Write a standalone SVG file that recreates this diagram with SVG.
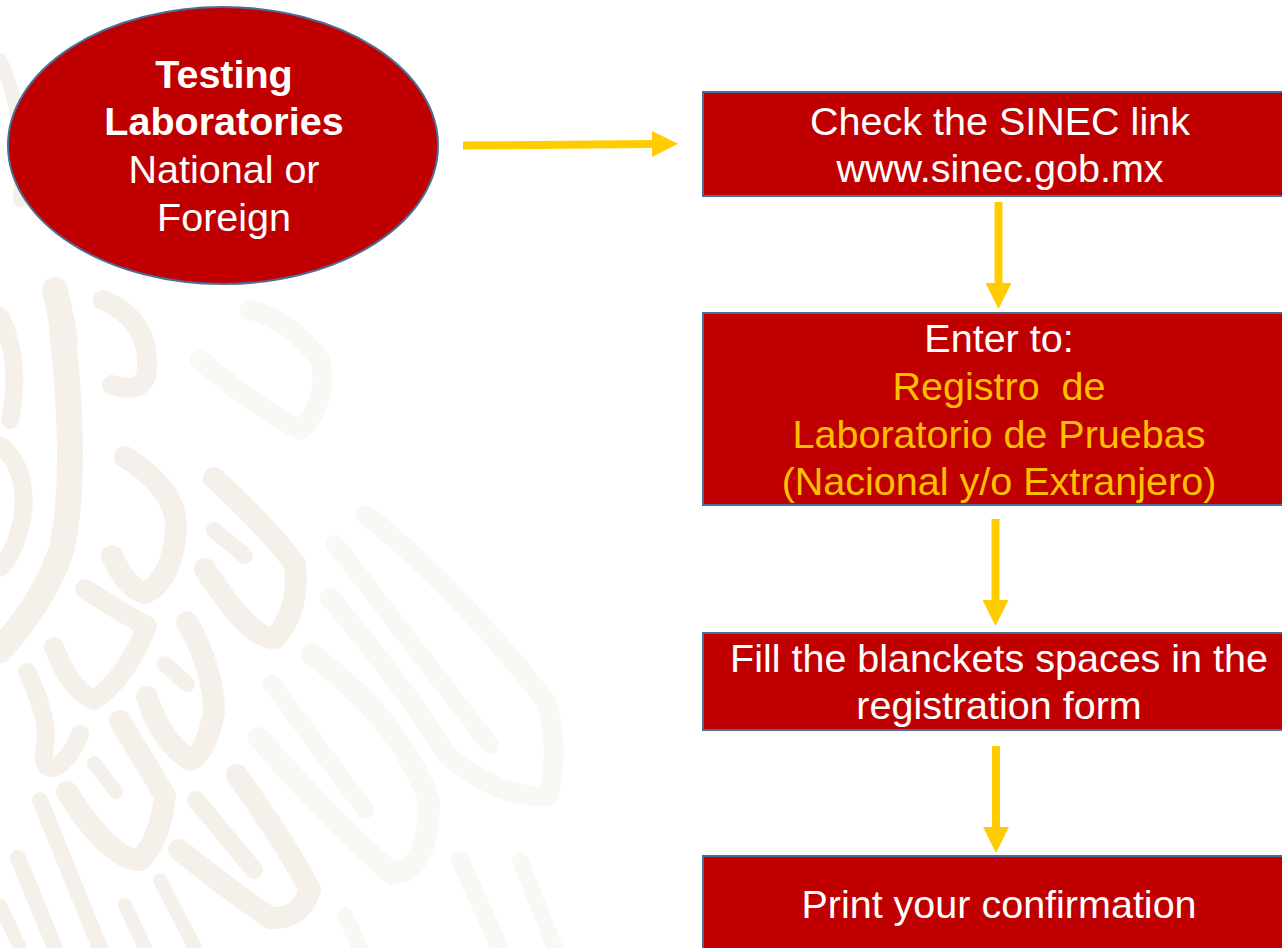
<svg xmlns="http://www.w3.org/2000/svg" width="1282" height="948" viewBox="0 0 1282 948">
<defs>
<style>
.node{fill:#C00000;stroke:#4A6F96;stroke-width:2}
.t{font-family:"Liberation Sans",Arial,sans-serif;font-size:39.5px;fill:#FFFFFF;text-anchor:middle}
.y{fill:#FFC000}
.b{font-weight:bold}
.wm{fill:none;stroke:#F5F1EA;stroke-linecap:round;stroke-linejoin:round}
.wm2{fill:none;stroke:#FAF8F4;stroke-linecap:round;stroke-linejoin:round}
.arr{fill:none;stroke:#FFCC00;stroke-width:8}
</style>
<marker id="ah" markerUnits="userSpaceOnUse" markerWidth="26" markerHeight="26" refX="0" refY="13" orient="auto" viewBox="0 0 26 26">
<path d="M0,0 L26,13 L0,26 Z" fill="#FFCC00"/>
</marker>
</defs>
<rect width="1282" height="948" fill="#FFFFFF"/>
<g id="watermark">
<g class="wm">
<path d="M55,290 Q70,360 62,330 Q78,470 62,548 Q45,600 0,650" stroke-width="26"/>
<path d="M0,316 Q22,360 10,420" stroke-width="18"/>
<path d="M0,445 Q30,470 22,520 Q14,555 0,568" stroke-width="18"/>
<path d="M103,300 Q150,320 147,370 Q145,395 112,385" stroke-width="20"/>
<path d="M125,457 Q178,490 176,530 Q172,580 145,593 Q128,590 112,556" stroke-width="22"/>
<path d="M85,589 Q134,620 147,626 Q125,680 94,700 Q70,690 54,647" stroke-width="20"/>
<path d="M27,672 Q50,720 45,745 Q40,770 54,768 Q70,760 80,734" stroke-width="18"/>
<path d="M187,622 Q214,670 214,713 Q205,755 190,760 Q160,740 147,697" stroke-width="22"/>
<path d="M120,721 Q150,770 165,796 Q160,840 140,860 Q110,860 67,792" stroke-width="22"/>
<path d="M214,478 Q270,530 295,564 Q300,610 275,638 Q250,640 205,569" stroke-width="22"/>
<path d="M214,530 L245,556" stroke-width="16"/>
<path d="M165,664 L187,684" stroke-width="16"/>
<path d="M94,763 L116,792" stroke-width="14"/>
<path d="M237,775 Q290,850 310,890 Q300,920 270,918 Q230,890 179,850" stroke-width="22"/>
<path d="M196,800 L254,870" stroke-width="18"/>
<path d="M40,800 L100,948" stroke-width="16"/>
<path d="M18,858 L55,948" stroke-width="16"/>
<path d="M125,905 L145,948" stroke-width="14"/>
<path d="M0,905 L20,948" stroke-width="14"/>
<path d="M160,880 L195,948" stroke-width="14"/>
<path d="M0,60 Q25,110 20,200" stroke-width="14"/>
</g>
<g class="wm2">
<path d="M259,738 Q340,830 393,874 Q429,870 429,800 Q400,720 312,655" stroke-width="22"/>
<path d="M272,684 L365,810" stroke-width="18"/>
<path d="M330,598 Q400,680 446,754 Q500,800 549,796 Q560,740 545,700 Q450,580 366,515" stroke-width="20"/>
<path d="M335,544 L490,745" stroke-width="18"/>
<path d="M200,360 Q260,410 300,430 Q330,400 320,360 Q290,320 250,310" stroke-width="20"/>
<path d="M460,860 L500,948" stroke-width="18"/>
<path d="M520,860 L555,948" stroke-width="16"/>
<path d="M345,915 L360,948" stroke-width="16"/>
</g>
</g>
<g id="connectors">
<path class="arr" d="M463,145.5 L652,144" marker-end="url(#ah)"/>
<path class="arr" d="M998.5,202 L998.5,283" marker-end="url(#ah)"/>
<path class="arr" d="M995.5,519 L995.5,600" marker-end="url(#ah)"/>
<path class="arr" d="M996,746 L996,827" marker-end="url(#ah)"/>
</g>
<g id="node-testing">
<ellipse class="node" cx="223" cy="145.5" rx="215" ry="138.5"/>
<text class="t b" x="224" y="88">Testing</text>
<text class="t b" x="224" y="135">Laboratories</text>
<text class="t" x="224" y="183">National or</text>
<text class="t" x="224" y="231">Foreign</text>
</g>
<g id="node-sinec">
<rect class="node" x="703" y="92" width="600" height="104"/>
<text class="t" x="1000" y="135">Check the SINEC link</text>
<text class="t" x="1000" y="182">www.sinec.gob.mx</text>
</g>
<g id="node-enter">
<rect class="node" x="703" y="313" width="600" height="192"/>
<text class="t" x="999" y="352">Enter to:</text>
<text class="t y" x="999" y="400" xml:space="preserve">Registro  de</text>
<text class="t y" x="999" y="448">Laboratorio de Pruebas</text>
<text class="t y" x="999" y="495">(Nacional y/o Extranjero)</text>
</g>
<g id="node-fill">
<rect class="node" x="703" y="633" width="600" height="97"/>
<text class="t" x="999" y="672">Fill the blanckets spaces in the</text>
<text class="t" x="999" y="719">registration form</text>
</g>
<g id="node-print">
<rect class="node" x="703" y="856" width="600" height="110"/>
<text class="t" x="999" y="918">Print your confirmation</text>
</g>
</svg>
